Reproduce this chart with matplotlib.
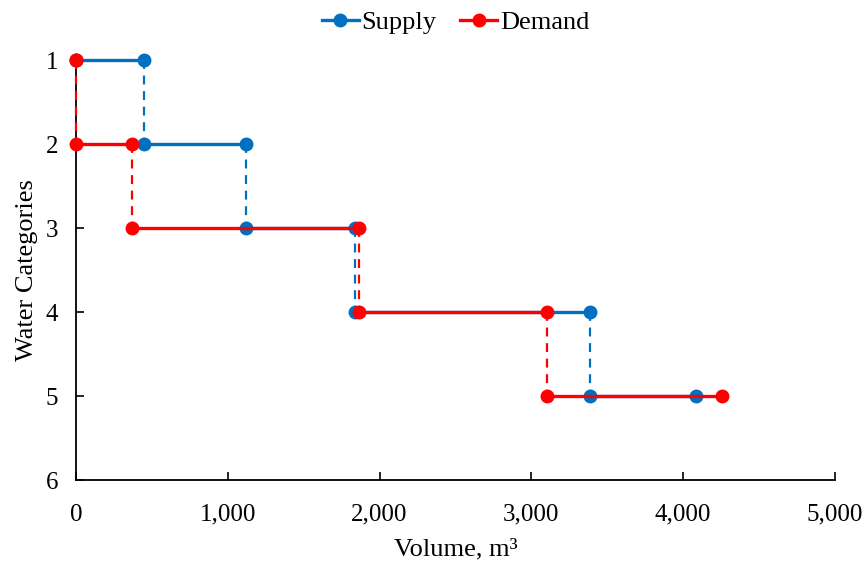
import numpy as np
import matplotlib.pyplot as plt

plt.rcParams['font.family'] = ['Liberation Serif', 'DejaVu Serif']

# volume at which each water category starts / ends (m3), categories 1..5
categories = [1, 2, 3, 4, 5]
supply_edges = [0, 450, 1120, 1837, 3388, 4082]
demand_edges = [0, 0, 369, 1863, 3105, 4253]

x_ticks = [0, 1000, 2000, 3000, 4000, 5000]
y_ticks = [1, 2, 3, 4, 5, 6]

blue = '#0070C0'
red = '#FF0000'

fig = plt.figure(figsize=(8.63, 5.63), dpi=100)
ax = fig.add_axes([0.088, 0.147, 0.8795, 0.746])


def draw_steps(edges, color, label, z):
    for i, cat in enumerate(categories):
        x0, x1 = edges[i], edges[i + 1]
        ax.plot([x0, x1], [cat, cat], color=color, lw=2.4, marker='o', ms=9,
                zorder=z, clip_on=False, label=label if i == 0 else None)
        if i < len(categories) - 1:
            ax.plot([x1, x1], [cat, cat + 1], color=color, lw=1.6,
                    ls=(0, (4, 3)), zorder=z - 1, clip_on=False)


draw_steps(supply_edges, blue, 'Supply', 4)
draw_steps(demand_edges, red, 'Demand', 6)

ax.set_xlim(0, 5000)
ax.set_ylim(6, 1)
ax.set_xticks(x_ticks)
ax.set_xticklabels(['{:,}'.format(v) for v in x_ticks])
ax.set_yticks(y_ticks)
ax.tick_params(direction='in', length=6, width=1.2, labelsize=18)
ax.tick_params(axis='x', pad=17)
ax.tick_params(axis='y', pad=13)
for s in ['top', 'right']:
    ax.spines[s].set_visible(False)
for s in ['left', 'bottom']:
    ax.spines[s].set_linewidth(1.3)

ax.set_xlabel('Volume, m³', fontsize=19, labelpad=9)
ax.set_ylabel('Water Categories', fontsize=19, labelpad=5)

ax.legend(loc='lower center', bbox_to_anchor=(0.5, 1.025), ncol=2, frameon=False,
          fontsize=19, handlelength=1.4, handletextpad=0.1, columnspacing=0.9,
          borderaxespad=0.2)

fig.savefig('out.png', dpi=100)
